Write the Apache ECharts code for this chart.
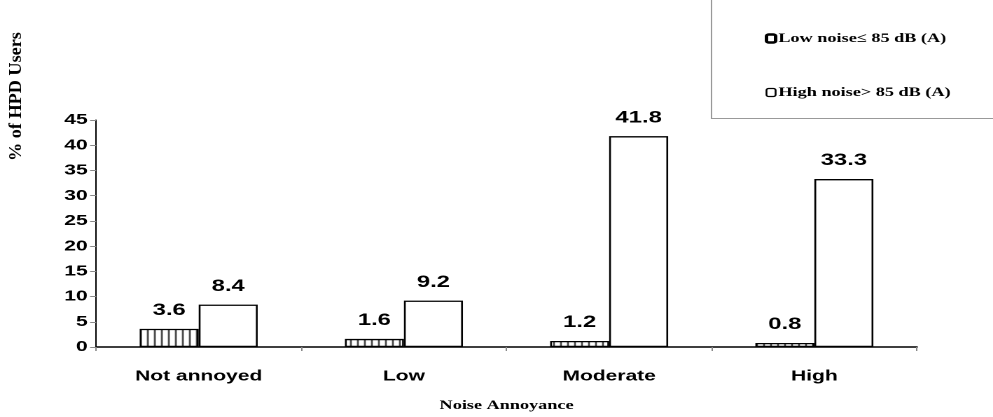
<!DOCTYPE html>
<html><head><meta charset="utf-8">
<script src="https://cdn.jsdelivr.net/npm/echarts@6/dist/echarts.min.js"></script>
<style>
html,body{margin:0;padding:0;background:#fff;overflow:hidden}
#wrap{width:993px;height:417px;overflow:hidden;position:relative}
#c{width:709px;height:417px;transform:scaleX(1.4006);transform-origin:0 0;position:absolute;left:0;top:0}
</style>
</head><body><div id="wrap"><div id="c"></div></div>
<script>
const categories = ['Not annoyed', 'Low', 'Moderate', 'High'];
const lowNoise = [3.6, 1.6, 1.2, 0.8];
const highNoise = [8.4, 9.2, 41.8, 33.3];
const seriesNames = ['Low noise\u2264 85 dB (A)', 'High noise> 85 dB (A)'];
const yTicks = [0, 5, 10, 15, 20, 25, 30, 35, 40, 45];

const cv = document.createElement('canvas');
cv.width = 5; cv.height = 10;
const cx = cv.getContext('2d');
cx.fillStyle = '#fff'; cx.fillRect(0, 0, 5, 10);
cx.fillStyle = '#000'; cx.fillRect(0, 0, 1, 10);

const chart = echarts.init(document.getElementById('c'), null, {devicePixelRatio: 2});
const serif = 'Liberation Serif, Times New Roman, serif';
const sans = 'Liberation Sans, Arial, sans-serif';
const lblStyle = {show: true, position: 'top', distance: 10, color: '#000', fontFamily: sans, fontWeight: 'bold', fontSize: 17};
chart.setOption({
  animation: false,
  backgroundColor: '#fff',
  grid: {left: 68.6, right: 54.3, top: 120, bottom: 57},
  graphic: [
    {type: 'rect', shape: {x: 508, y: -2, width: 300, height: 120.5}, style: {fill: 'none', stroke: '#999', lineWidth: 1}},
    {type: 'text', x: 5, y: 161, rotation: Math.PI / 2, scaleX: 1.4, scaleY: 1,
     style: {text: '% of HPD Users', fill: '#000', fontFamily: serif, fontWeight: 'bold', fontSize: 13}}
  ],
  legend: {
    orient: 'vertical', left: 546, top: 32, padding: 0, itemGap: 41, itemWidth: 6.5, itemHeight: 8,
    textStyle: {fontFamily: serif, fontWeight: 'bold', fontSize: 13, color: '#000', padding: [0, 0, 0, -3]},
    data: [
      {name: seriesNames[0], itemStyle: {color: '#fff', borderColor: '#000', borderWidth: 2.5}},
      {name: seriesNames[1], itemStyle: {color: '#fff', borderColor: '#000', borderWidth: 1.3}}
    ]
  },
  xAxis: {
    type: 'category', data: categories,
    name: 'Noise Annoyance', nameLocation: 'middle', nameGap: 52,
    nameTextStyle: {fontFamily: serif, fontWeight: 'bold', fontSize: 13, color: '#000'},
    axisLine: {lineStyle: {color: '#000', width: 1.5}},
    axisTick: {show: true, length: 4, lineStyle: {color: '#888'}},
    axisLabel: {color: '#000', fontFamily: sans, fontWeight: 'bold', fontSize: 15, margin: 22}
  },
  yAxis: {
    type: 'value', min: 0, max: 45, interval: 5,
    axisLine: {show: true, lineStyle: {color: '#000', width: 1}},
    axisTick: {show: true, length: 4.3, lineStyle: {color: '#888'}},
    splitLine: {show: false},
    axisLabel: {color: '#000', fontFamily: sans, fontWeight: 'bold', fontSize: 15, margin: 6,
      formatter: v => yTicks.includes(v) ? String(v) : ''}
  },
  series: [
    {name: seriesNames[0], type: 'bar', data: lowNoise, barGap: '0%', barCategoryGap: '42.5%',
     itemStyle: {color: {image: cv, repeat: 'repeat'}, borderColor: '#000', borderWidth: 1.3}, label: lblStyle},
    {name: seriesNames[1], type: 'bar', data: highNoise,
     itemStyle: {color: '#fff', borderColor: '#000', borderWidth: 1.3}, label: lblStyle}
  ]
});
</script></body></html>
